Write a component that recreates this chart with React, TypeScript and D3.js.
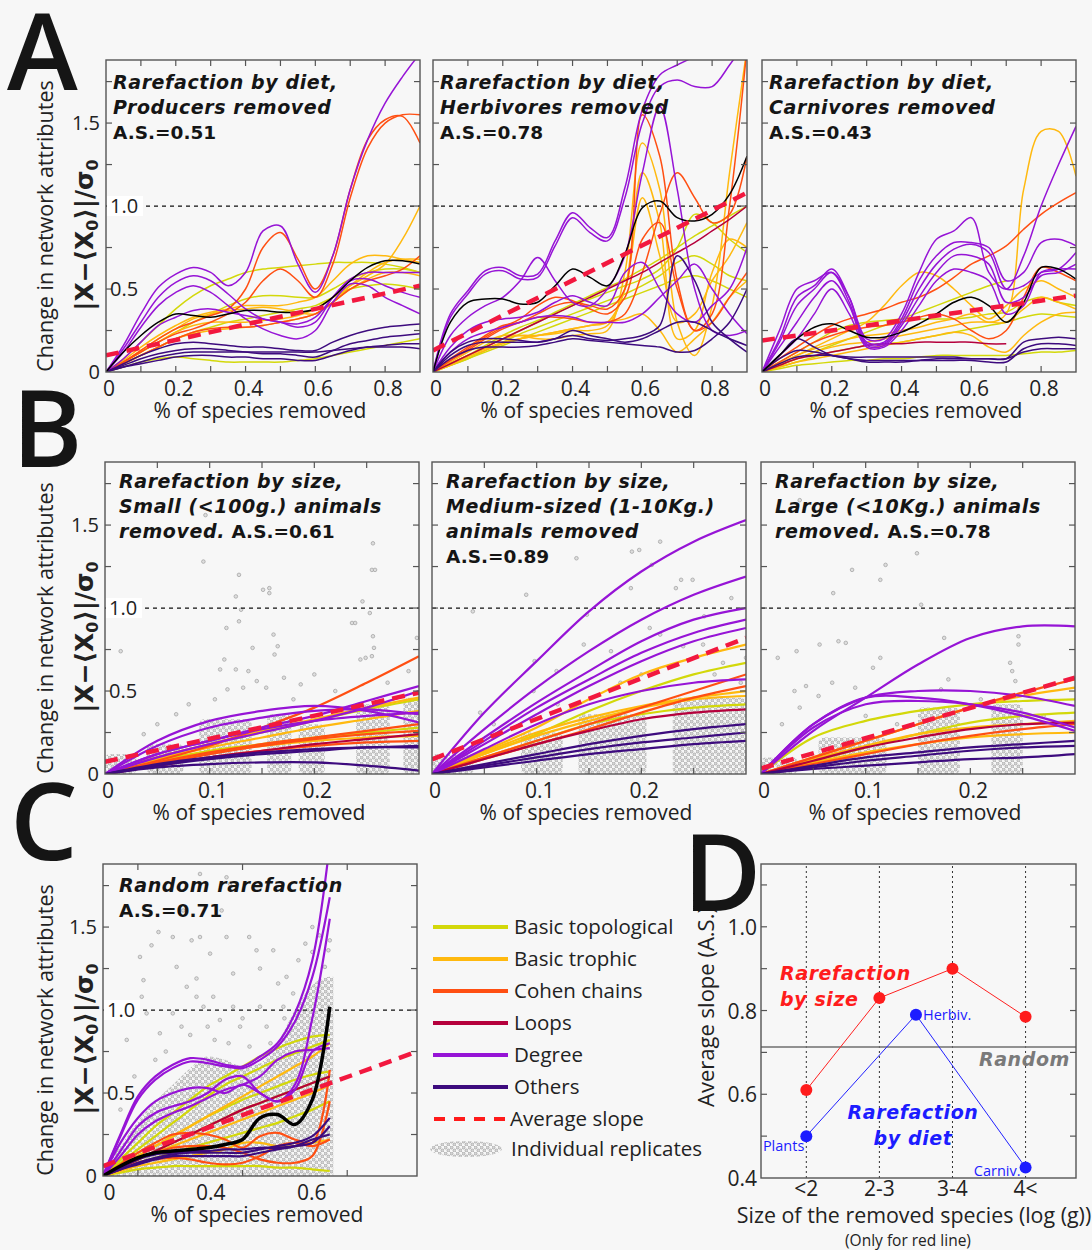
import React, { useEffect, useRef } from "react";
import * as d3 from "d3";

// x grids the curves were read on
const X_A = [0, 0.05, 0.1, 0.15, 0.2, 0.25, 0.3, 0.35, 0.4, 0.45, 0.5, 0.55, 0.6, 0.65, 0.7, 0.75, 0.8, 0.85, 0.9];
const X_B = [0, 0.05, 0.1, 0.15, 0.2, 0.25, 0.3];
const X_C = [0, 0.05, 0.1, 0.15, 0.2, 0.25, 0.3, 0.35, 0.4, 0.45, 0.5, 0.55, 0.6, 0.65];

type Line = [string, number[]];

// panel A: rarefaction by diet
const A1_LINES: Line[] = [
  ["topo", [0, .08, .18, .28, .38, .46, .52, .56, .6, .62, .63, .64, .65, .66, .66, .66, .65, .63, .6]],
  ["topo", [0, .06, .12, .18, .24, .3, .35, .4, .44, .46, .46, .45, .45, .5, .56, .6, .62, .62, .6]],
  ["topo", [0, .03, .06, .08, .09, .08, .07, .06, .06, .06, .06, .07, .08, .1, .12, .14, .16, .18, .2]],
  ["topo", [0, .05, .1, .15, .2, .24, .27, .3, .32, .34, .36, .38, .4, .45, .5, .52, .53, .52, .5]],
  ["trophic", [0, .06, .12, .18, .24, .28, .3, .3, .3, .31, .32, .34, .38, .45, .52, .58, .65, .8, 1.0]],
  ["trophic", [0, .07, .15, .22, .28, .33, .36, .38, .4, .4, .4, .42, .45, .55, .65, .7, .7, .68, .66]],
  ["trophic", [0, .06, .13, .2, .26, .32, .35, .37, .38, .39, .38, .36, .35, .42, .52, .6, .66, .68, .68]],
  ["trophic", [0, .05, .1, .15, .2, .23, .25, .26, .27, .28, .3, .32, .35, .42, .5, .56, .6, .6, .58]],
  ["cohen", [0, .06, .13, .2, .26, .3, .34, .38, .5, .75, .84, .68, .5, .7, 1.1, 1.4, 1.52, 1.54, 1.38]],
  ["cohen", [0, .06, .12, .18, .23, .26, .3, .35, .42, .55, .62, .55, .45, .65, 1.05, 1.35, 1.5, 1.55, 1.55]],
  ["cohen", [0, .05, .1, .15, .2, .24, .26, .27, .27, .28, .3, .32, .35, .42, .5, .55, .58, .62, .7]],
  ["degree", [0, .16, .35, .51, .59, .63, .6, .52, .6, .85, .88, .65, .48, .7, 1.1, 1.4, 1.62, 1.78, 1.92]],
  ["degree", [0, .14, .3, .45, .54, .58, .55, .47, .38, .32, .3, .27, .3, .45, .56, .6, .6, .6, .6]],
  ["degree", [0, .12, .27, .4, .48, .52, .48, .4, .32, .26, .22, .2, .25, .42, .53, .52, .45, .4, .35]],
  ["degree", [0, .08, .18, .28, .33, .37, .38, .36, .34, .32, .3, .29, .33, .45, .55, .56, .52, .48, .45]],
  ["others", [0, .05, .1, .14, .17, .18, .17, .16, .15, .15, .14, .13, .13, .18, .22, .25, .27, .28, .29]],
  ["others", [0, .04, .08, .11, .13, .14, .14, .13, .12, .11, .11, .1, .09, .13, .17, .19, .21, .22, .23]],
  ["others", [0, .03, .06, .09, .11, .12, .12, .12, .12, .12, .12, .12, .12, .13, .14, .15, .15, .15, .14]],
  ["others", [0, .03, .05, .07, .09, .1, .1, .09, .09, .08, .08, .07, .07, .1, .13, .15, .16, .17, .17]],
];
const A1_MEAN = [0, .12, .22, .3, .35, .34, .33, .35, .37, .37, .36, .36, .38, .45, .55, .63, .67, .67, .65];

const A2_LINES: Line[] = [
  ["topo", [0, .05, .1, .16, .22, .27, .31, .36, .41, .46, .51, .56, .62, .68, .75, .82, .88, .94, 1.0]],
  ["topo", [0, .05, .1, .15, .2, .25, .3, .35, .4, .44, .48, .52, .56, .62, .75, .95, .9, .8, .72]],
  ["topo", [0, .04, .08, .13, .18, .23, .27, .31, .35, .39, .43, .47, .52, .58, .66, .7, .65, .58, .55]],
  ["topo", [0, .04, .08, .12, .16, .2, .24, .28, .32, .36, .4, .44, .48, .52, .56, .58, .55, .5, .45]],
  ["trophic", [0, .06, .12, .18, .22, .22, .2, .2, .22, .23, .25, .6, 1.38, 1.1, .3, .1, .4, 1.2, 1.95]],
  ["trophic", [0, .05, .1, .15, .2, .22, .22, .23, .25, .25, .28, .5, 1.2, .9, .2, .25, .6, .8, .75]],
  ["trophic", [0, .05, .1, .14, .18, .2, .22, .24, .26, .28, .3, .5, 1.05, .7, .3, .35, .55, .7, .9]],
  ["trophic", [0, .04, .09, .13, .17, .2, .22, .24, .26, .28, .3, .32, .35, .25, .12, .2, .3, .45, .55]],
  ["cohen", [0, .08, .15, .22, .28, .3, .35, .4, .42, .4, .38, .5, 1.55, 1.3, .55, .25, .35, 1.0, 1.95]],
  ["cohen", [0, .07, .13, .2, .26, .3, .33, .33, .32, .3, .3, .35, .6, .95, 1.2, 1.05, .9, .95, 1.3]],
  ["cohen", [0, .07, .14, .21, .27, .32, .4, .45, .43, .38, .35, .45, .8, .9, .5, .25, .3, .45, .6]],
  ["loops", [0, .05, .1, .15, .2, .25, .3, .35, .4, .45, .5, .55, .6, .66, .72, .78, .85, .92, 1.0]],
  ["degree", [0, .35, .49, .61, .63, .58, .59, .79, .96, .87, .81, 1.11, 1.58, 1.79, 1.85, 1.9, 1.95, 2.0, 2.0]],
  ["degree", [0, .33, .47, .59, .61, .56, .57, .76, .93, .84, .79, 1.05, 1.5, 1.72, 1.76, 1.72, 1.72, 1.85, 2.0]],
  ["degree", [0, .22, .33, .4, .45, .55, .69, .55, .42, .4, .5, .7, 1.2, 1.6, 1.1, .5, .25, .22, .25]],
  ["degree", [0, .15, .25, .3, .32, .33, .36, .42, .46, .42, .4, .6, .66, .5, .35, .3, .4, .5, .75]],
  ["degree", [0, .12, .2, .24, .27, .3, .33, .34, .33, .3, .3, .3, .35, .45, .55, .65, .5, .35, .23]],
  ["others", [0, .12, .18, .2, .2, .19, .18, .2, .25, .22, .2, .18, .2, .25, .3, .3, .25, .2, .16]],
  ["others", [0, .1, .16, .18, .18, .18, .18, .2, .22, .2, .19, .2, .22, .28, .7, .55, .3, .2, .12]],
  ["others", [0, .08, .13, .15, .15, .15, .16, .18, .2, .19, .18, .17, .16, .15, .12, .13, .2, .3, .5]],
];
const A2_MEAN = [0, .3, .42, .44, .44, .41, .42, .52, .62, .57, .52, .71, .99, 1.03, .93, .91, .95, 1.07, 1.3];

const A3_LINES: Line[] = [
  ["topo", [0, .06, .12, .18, .24, .28, .3, .31, .32, .32, .32, .32, .33, .35, .36, .42, .45, .42, .4]],
  ["topo", [0, .04, .08, .12, .16, .2, .24, .28, .32, .36, .4, .44, .48, .52, .55]],
  ["topo", [0, .02, .04, .05, .06, .07, .07, .08, .08, .09, .1, .1, .1, .1, .1, .11, .12, .12, .13]],
  ["topo", [0, .03, .06, .09, .12, .14, .16, .17, .18, .2, .22, .24, .26, .28, .3, .33, .35, .34, .33]],
  ["trophic", [0, .05, .1, .14, .17, .2, .22, .23, .25, .27, .3, .32, .35, .3, .35, 1.1, 1.45, 1.45, 1.18]],
  ["trophic", [0, .05, .1, .15, .2, .25, .3, .4, .52, .6, .58, .5, .4, .32, .4, .5, .55, .5, .45]],
  ["trophic", [0, .04, .08, .12, .15, .17, .18, .2, .22, .24, .26, .28, .3, .3, .3, .38, .45, .42, .38]],
  ["trophic", [0, .03, .06, .08, .1, .12, .14, .16, .18, .2, .22, .24, .22, .15, .12, .22, .3, .35, .36]],
  ["cohen", [0, .08, .15, .22, .28, .32, .35, .38, .42, .45, .5, .57, .65, .7, .76, .86, .95, 1.02, 1.08]],
  ["cohen", [0, .06, .12, .18, .22, .25, .27, .28, .3, .33, .35, .32, .25, .2, .25, .45, .63, .6, .55]],
  ["loops", [0, .04, .08, .1, .12, .14, .16, .17, .17, .18, .18, .18, .18, .17, .17]],
  ["degree", [0, .25, .5, .55, .6, .45, .2, .2, .35, .6, .8, .85, .93, .6, .5, .7, 1.0, 1.25, 1.48]],
  ["degree", [0, .2, .45, .52, .62, .45, .18, .18, .32, .55, .7, .78, .78, .75, .55, .6, .78, .8, .76]],
  ["degree", [0, .18, .4, .5, .6, .42, .17, .17, .3, .5, .65, .74, .77, .72, .5, .52, .6, .62, .72]],
  ["degree", [0, .15, .3, .45, .55, .4, .16, .16, .28, .45, .6, .7, .7, .65, .42, .45, .58, .6, .65]],
  ["degree", [0, .1, .2, .35, .5, .35, .15, .15, .25, .4, .55, .62, .6, .55, .35, .4, .6, .62, .62]],
  ["others", [0, .1, .2, .15, .1, .08, .06, .06, .06, .07, .08, .08, .08, .08, .08, .18, .2, .21, .2]],
  ["others", [0, .08, .13, .12, .1, .08, .07, .07, .07, .07, .07, .07, .07, .06, .06, .14, .17, .17, .16]],
  ["others", [0, .05, .09, .1, .1, .09, .09, .09, .09, .09, .09, .09, .08, .08, .08, .12, .14, .14, .14]],
];
const A3_MEAN = [0, .1, .2, .27, .29, .25, .21, .21, .24, .29, .35, .42, .45, .4, .3, .42, .63, .62, .56];

// panel B: rarefaction by size
const B1_LINES: Line[] = [
  ["topo", [0, .1, .18, .25, .32, .39, .45]],
  ["topo", [0, .08, .14, .18, .22, .25, .28]],
  ["trophic", [0, .1, .18, .26, .33, .4, .46]],
  ["trophic", [0, .07, .13, .17, .2, .22, .23]],
  ["trophic", [0, .09, .16, .22, .28, .33, .38]],
  ["cohen", [0, .08, .17, .28, .4, .55, .71]],
  ["cohen", [0, .07, .13, .18, .22, .26, .3]],
  ["cohen", [0, .05, .1, .14, .17, .19, .2]],
  ["cohen", [0, .06, .12, .17, .21, .24, .26]],
  ["loops", [0, .05, .1, .14, .18, .21, .24]],
  ["degree", [0, .2, .32, .38, .41, .38, .31]],
  ["degree", [0, .17, .28, .34, .38, .39, .36]],
  ["degree", [0, .12, .2, .28, .35, .44, .53]],
  ["degree", [0, .1, .18, .25, .32, .4, .5]],
  ["degree", [0, .12, .2, .27, .32, .35, .37]],
  ["others", [0, .05, .09, .12, .14, .16, .16]],
  ["others", [0, .04, .06, .07, .07, .05, .02]],
  ["others", [0, .06, .1, .13, .15, .16, .17]],
];
const B2_LINES: Line[] = [
  ["topo", [0, .12, .24, .38, .5, .6, .67]],
  ["topo", [0, .1, .2, .3, .36, .4, .42]],
  ["trophic", [0, .14, .28, .45, .6, .7, .78]],
  ["trophic", [0, .13, .25, .34, .41, .46, .5]],
  ["trophic", [0, .12, .23, .32, .4, .45, .47]],
  ["cohen", [0, .1, .2, .3, .4, .5, .6]],
  ["cohen", [0, .09, .18, .27, .37, .46, .53]],
  ["loops", [0, .09, .18, .26, .33, .37, .39]],
  ["degree", [0, .37, .68, .98, 1.22, 1.4, 1.53]],
  ["degree", [0, .27, .52, .74, .93, 1.08, 1.19]],
  ["degree", [0, .22, .43, .62, .8, .93, 1.0]],
  ["degree", [0, .2, .4, .57, .73, .85, .93]],
  ["degree", [0, .18, .36, .53, .68, .8, .88]],
  ["degree", [0, .15, .3, .42, .5, .55, .57]],
  ["others", [0, .06, .12, .18, .23, .27, .3]],
  ["others", [0, .05, .1, .15, .19, .22, .25]],
  ["others", [0, .04, .08, .12, .15, .18, .2]],
];
const B3_LINES: Line[] = [
  ["topo", [0, .22, .32, .38, .42, .44, .45]],
  ["topo", [0, .08, .16, .24, .31, .35, .37]],
  ["trophic", [0, .1, .2, .3, .4, .47, .52]],
  ["trophic", [0, .07, .13, .18, .22, .24, .25]],
  ["trophic", [0, .09, .17, .24, .28, .3, .32]],
  ["cohen", [0, .1, .2, .3, .4, .49, .57]],
  ["cohen", [0, .06, .12, .18, .23, .27, .3]],
  ["loops", [0, .08, .16, .22, .27, .3, .31]],
  ["degree", [0, .26, .46, .66, .82, .89, .89]],
  ["degree", [0, .3, .46, .5, .5, .47, .41]],
  ["degree", [0, .3, .46, .46, .42, .35, .26]],
  ["degree", [0, .28, .42, .44, .42, .37, .28]],
  ["others", [0, .05, .1, .13, .16, .18, .2]],
  ["others", [0, .04, .08, .11, .14, .16, .17]],
  ["others", [0, .03, .05, .07, .09, .1, .12]],
];

// panel C: random rarefaction
const C_LINES: Line[] = [
  ["topo", [0, .1, .2, .3, .38, .46, .54, .6, .66, .72, .77, .81, .84, .85]],
  ["topo", [0, .08, .16, .24, .32, .4, .48, .55, .6, .65, .7, .74, .78, .82]],
  ["topo", [0, .06, .12, .18, .24, .3, .36, .41, .46, .5, .54, .58, .61, .63]],
  ["topo", [0, .05, .1, .15, .2, .25, .3, .35, .4, .44, .48, .52, .56, .6]],
  ["topo", [0, .02, .04, .05, .06, .06, .06, .06, .06, .06, .05, .05, .04, .03]],
  ["topo", [0, .04, .08, .11, .14, .17, .2, .23, .26, .29, .32, .36, .4, .45]],
  ["trophic", [0, .06, .12, .18, .24, .3, .36, .42, .48, .54, .6, .66, .72, .8]],
  ["trophic", [0, .03, .06, .08, .1, .12, .14, .16, .2, .2, .18, .18, .2, .22]],
  ["trophic", [0, .05, .1, .14, .18, .22, .26, .3, .34, .38, .42, .46, .5, .55]],
  ["cohen", [0, .07, .14, .2, .25, .26, .25, .22, .17, .24, .26, .22, .2, .64]],
  ["cohen", [0, .05, .1, .14, .17, .18, .18, .17, .14, .1, .08, .08, .12, .45]],
  ["cohen", [0, .04, .08, .1, .11, .1, .08, .07, .08, .12, .18, .2, .18, .22]],
  ["loops", [0, .05, .1, .15, .2, .25, .3, .35, .4, .44, .48, .52, .56, .6]],
  ["degree", [0, .25, .48, .6, .67, .71, .7, .67, .66, .72, .8, .98, 1.3, 2.0]],
  ["degree", [0, .24, .46, .58, .65, .69, .68, .66, .65, .7, .78, .93, 1.2, 1.68]],
  ["degree", [0, .2, .35, .45, .5, .53, .53, .5, .55, .5, .45, .55, .95, 1.55]],
  ["degree", [0, .15, .3, .38, .42, .45, .5, .58, .6, .5, .45, .52, .75, .8]],
  ["degree", [0, .12, .25, .33, .38, .42, .47, .52, .55, .6, .7, .75, .76, .77]],
  ["others", [0, .05, .1, .13, .14, .15, .15, .16, .16, .17, .17, .18, .2, .3]],
  ["others", [0, .04, .08, .11, .13, .14, .14, .14, .14, .16, .18, .2, .24, .35]],
  ["others", [0, .04, .07, .1, .12, .12, .12, .12, .12, .14, .16, .18, .22, .25]],
];
const C_MEAN = [0, .06, .11, .14, .15, .16, .17, .19, .22, .35, .37, .31, .46, 1.02];

// average slope lines: value at left edge and at right edge
const A_SLOPES = [[0.1, 0.52], [0.13, 1.08], [0.19, 0.46]];
const B_SLOPES = [[0.074, 0.49], [0.088, 0.82], [0.034, 0.58]];
const C_SLOPE = [0.06, 0.75];

// individual replicates: dense columns [x from, x to, top] and scattered points
const B1_CLOUD = [[0, 0.03, 0.12], [0.04, 0.075, 0.18], [0.09, 0.14, 0.33], [0.155, 0.178, 0.36], [0.185, 0.21, 0.3], [0.24, 0.272, 0.42], [0.285, 0.3, 0.46]];
const B2_CLOUD = [[0, 0.04, 0.12], [0.085, 0.125, 0.25], [0.14, 0.205, 0.36], [0.23, 0.3, 0.46]];
const B3_CLOUD = [[0, 0.035, 0.1], [0.055, 0.12, 0.22], [0.15, 0.19, 0.4], [0.22, 0.25, 0.42]];
const C_CLOUD_X = [0, .05, .1, .15, .2, .25, .3, .35, .4, .45, .5, .55, .6, .65, .66];
const C_CLOUD_TOP = [.05, .18, .33, .45, .55, .65, .72, .7, .66, .68, .8, 1.0, 1.15, 1.2, 1.2];

const B1_POINTS = [[.094, 1.28], [.128, 1.2], [.125, 1.07], [.13, .99], [.151, 1.11], [.157, 1.12], [.157, 1.09], [.128, .92], [.116, .88], [.015, .74], [.114, .69], [.11, .63], [.125, .63], [.137, .62], [.141, .76], [.161, .84], [.165, .77], [.162, .72], [.171, .58], [.236, .91], [.239, .91], [.246, 1.04], [.256, 1.39], [.255, 1.23], [.258, 1.23], [.256, .83], [.257, .76], [.255, .71], [.253, .97], [.249, .7], [.244, .69], [.298, .82], [.187, .54], [.117, .51], [.132, .52], [.145, .56], [.154, .52], [.068, .36], [.037, .24], [.096, 1.56], [.2, .6], [.22, .5], [.27, .55], [.08, .42], [.05, .3], [.18, .45], [.29, .62], [.105, .45]];
const B2_POINTS = [[.039, .98], [.09, 1.08], [.198, 1.35], [.191, 1.34], [.21, 1.26], [.19, 1.12], [.233, 1.12], [.238, 1.17], [.249, 1.17], [.286, 1.06], [.145, .78], [.171, .74], [.208, .88], [.218, .84], [.24, .77], [.259, .78], [.278, .67], [.098, .68], [.097, .5], [.046, .37], [.059, .3], [.218, 1.4], [.138, 1.3], [.119, .62], [.148, .96], [.27, .6], [.295, .55], [.18, .55], [.12, .42], [.26, .95], [.2, .6], [.3, .7]];
const B3_POINTS = [[.037, 1.65], [.07, 1.79], [.103, 1.79], [.149, 1.33], [.087, 1.23], [.119, 1.26], [.114, 1.17], [.069, 1.09], [.153, 1.02], [.056, .78], [.074, .8], [.081, .79], [.034, .74], [.016, .7], [.114, .7], [.107, .64], [.068, .55], [.09, .52], [.043, .53], [.032, .5], [.037, .4], [.175, .82], [.246, .83], [.246, .78], [.238, .67], [.24, .62], [.243, .56], [.179, .57], [.172, .51], [.055, .47], [.02, .3], [.1, .35], [.13, .3], [.21, .45], [.27, .35]];
const C_POINTS = [[.106, 1.32], [.139, 1.39], [.159, 1.47], [.2, 1.44], [.254, 1.42], [.278, 1.44], [.268, 1.19], [.307, 1.34], [.354, 1.44], [.373, 1.22], [.419, 1.44], [.44, 1.36], [.488, 1.36], [.502, 1.16], [.526, 1.2], [.354, 1.8], [.278, 1.82], [.364, 1.76], [.068, .82], [.111, 1.08], [.24, 1.14], [.2, .98], [.125, .98], [.163, .86], [.225, .9], [.268, 1.08], [.288, 1.02], [.316, 1.08], [.335, .94], [.373, 1.02], [.393, .9], [.45, 1.02], [.469, .9], [.517, 1.02], [.545, 1.1], [.116, 1.18], [.211, 1.26], [.646, 1.36], [.65, 1.42], [.636, 1.26], [.09, .6], [.15, .7], [.18, .75], [.25, .85], [.32, .82], [.36, .8], [.42, .78], [.48, .8], [.52, .95], [.56, 1.3], [.6, 1.35], [.62, 1.45], [.58, 1.4], [.3, .9], [.4, .95], [.05, .4], [.6, 1.5], [.45, 1.25], [.34, 1.6], [.23, 1.6]];

// panel D
const SIZE_CATS = ["<2", "2-3", "3-4", "4<"];
const SIZE_AS = [0.61, 0.83, 0.9, 0.785];
const DIET_POS = [0, 1.5, 3];
const DIET_AS = [0.5, 0.79, 0.425];
const DIET_NAMES = ["Plants", "Herbiv.", "Carniv."];
const RANDOM_AS = 0.713;
const D_Y_LABELS = [0.4, 0.6, 0.8, 1.0];

const LEGEND_KEYS = ["topo", "trophic", "cohen", "loops", "degree", "others"];
const LEGEND_NAMES = ["Basic topological", "Basic trophic", "Cohen chains", "Loops", "Degree", "Others"];

const COLORS: Record<string, string> = {
  topo: "#d3d80a",
  trophic: "#ffb90f",
  cohen: "#ff4f12",
  loops: "#b5003c",
  degree: "#9614d6",
  others: "#3d0b7e",
};
const SLOPE_RED = "#f2183f";
const BG = "#f7f7f7";
const PW = 314, PH = 312, Y_MAX = 1.88;
const SANS = "'Open Sans', 'DejaVu Sans', sans-serif";
const BOLD = "'DejaVu Sans', sans-serif";

type Seg = [string, boolean];

const App = () => {
  const ref = useRef<SVGSVGElement>(null);

  useEffect(() => {
    document.body.style.margin = "0";
    const svg = d3.select(ref.current);
    svg.selectAll("*").remove();
    svg.append("rect").attr("width", 1092).attr("height", 1250).attr("fill", BG);

    const defs = svg.append("defs");
    const pat = defs.append("pattern").attr("id", "reps").attr("width", 6).attr("height", 6)
      .attr("patternUnits", "userSpaceOnUse");
    [[1.5, 1.5], [4.5, 4.5]].forEach(([cx, cy]) => {
      pat.append("circle").attr("cx", cx).attr("cy", cy).attr("r", 1.5)
        .attr("fill", "#d6d6d6").attr("stroke", "#a6a6a6").attr("stroke-width", 0.8);
    });

    // bold (italic) annotation blocks, one text per line
    const drawTitle = (g: any, x: number, y0: number, gap: number, lines: Seg[][], color = "#151515", anchor = "start") => {
      lines.forEach((segs, i) => {
        const t = g.append("text").attr("x", x).attr("y", y0 + i * gap).attr("fill", color)
          .attr("text-anchor", anchor);
        segs.forEach(([s, it]) => {
          t.append("tspan").text(s)
            .attr("font-family", BOLD).attr("font-weight", "bold")
            .attr("font-style", it ? "italic" : "normal")
            .attr("font-size", it ? 19 : 18.5)
            .attr("letter-spacing", it ? 0.6 : 0);
        });
      });
    };

    const drawPlot = (p: any) => {
      const g = svg.append("g");
      const x = d3.scaleLinear().domain([0, p.xMax]).range([p.left, p.left + PW]);
      const y = d3.scaleLinear().domain([0, Y_MAX]).range([p.top + PH, p.top]);
      defs.append("clipPath").attr("id", "clip-" + p.id).append("rect")
        .attr("x", p.left).attr("y", p.top).attr("width", PW).attr("height", PH);
      const inner = g.append("g").attr("clip-path", `url(#clip-${p.id})`);

      // replicates
      if (p.bands) {
        inner.selectAll(".band").data(p.bands).join("rect")
          .attr("x", (d: number[]) => x(d[0])).attr("width", (d: number[]) => x(d[1]) - x(d[0]))
          .attr("y", (d: number[]) => y(d[2])).attr("height", (d: number[]) => y(0) - y(d[2]))
          .attr("rx", 5).attr("fill", "url(#reps)");
      }
      if (p.cloudX) {
        const area = d3.area<number>().x((d, i) => x(p.cloudX[i])).y0(y(0)).y1((d) => y(d))
          .curve(d3.curveMonotoneX);
        inner.append("path").attr("d", area(p.cloudTop)).attr("fill", "url(#reps)");
      }
      if (p.points) {
        inner.selectAll(".pt").data(p.points).join("circle")
          .attr("cx", (d: number[]) => x(d[0])).attr("cy", (d: number[]) => y(d[1])).attr("r", 1.8)
          .attr("fill", "#dedede").attr("stroke", "#a6a6a6").attr("stroke-width", 0.8);
      }

      // reference at 1.0
      inner.append("line").attr("x1", p.left).attr("x2", p.left + PW).attr("y1", y(1)).attr("y2", y(1))
        .attr("stroke", "#111").attr("stroke-width", 1.2).attr("stroke-dasharray", "4 4");

      const line = d3.line<number>().x((d, i) => x(p.xs[i])).y((d) => y(d))
        .curve(d3.curveCatmullRom.alpha(0.5));
      LEGEND_KEYS.forEach((k) => {
        p.lines.filter((l: Line) => l[0] === k).forEach((l: Line) => {
          inner.append("path").attr("d", line(l[1])).attr("fill", "none")
            .attr("stroke", COLORS[k]).attr("stroke-width", p.lw);
        });
      });
      if (p.mean) {
        inner.append("path").attr("d", line(p.mean)).attr("fill", "none")
          .attr("stroke", "#000").attr("stroke-width", p.meanW);
      }
      inner.append("line")
        .attr("x1", x(0)).attr("x2", x(p.xMax)).attr("y1", y(p.slope[0])).attr("y2", y(p.slope[1]))
        .attr("stroke", SLOPE_RED).attr("stroke-width", 4.5).attr("stroke-dasharray", "13 8");

      // frame and ticks
      g.append("rect").attr("x", p.left).attr("y", p.top).attr("width", PW).attr("height", PH)
        .attr("fill", "none").attr("stroke", "#555").attr("stroke-width", 1.4);
      const tk = g.append("g").attr("stroke", "#555").attr("stroke-width", 1.2);
      p.xTicks.forEach((v: number) => {
        tk.append("line").attr("x1", x(v)).attr("x2", x(v)).attr("y1", p.top + PH).attr("y2", p.top + PH - 6);
        tk.append("line").attr("x1", x(v)).attr("x2", x(v)).attr("y1", p.top).attr("y2", p.top + 6);
      });
      [0.25, 0.5, 0.75, 1, 1.25, 1.5, 1.75].forEach((v) => {
        tk.append("line").attr("x1", p.left).attr("x2", p.left + 6).attr("y1", y(v)).attr("y2", y(v));
        tk.append("line").attr("x1", p.left + PW).attr("x2", p.left + PW - 6).attr("y1", y(v)).attr("y2", y(v));
      });

      p.xLabelPos.forEach((v: number, i: number) => {
        g.append("text").attr("x", x(v) + 3).attr("y", p.top + PH + 24).attr("text-anchor", "middle")
          .attr("font-family", SANS).attr("font-size", 21).attr("fill", "#222").text(p.xLabelText[i]);
      });
      g.append("text").attr("x", p.left + PW / 2 - 3).attr("y", p.top + PH + 46).attr("text-anchor", "middle")
        .attr("font-family", SANS).attr("font-size", 21).attr("fill", "#222").text("% of species removed");

      if (p.yLabels) {
        const yl = g.append("g").attr("font-family", SANS).attr("font-size", 20).attr("fill", "#222");
        yl.append("rect").attr("x", p.left + 1).attr("y", y(1) - 10).attr("width", 36).attr("height", 20).attr("fill", "#fff");
        yl.append("text").attr("x", p.left - 6).attr("y", y(0) + 7).attr("text-anchor", "end").text("0");
        yl.append("text").attr("x", p.left - 6).attr("y", y(1.5) + 7).attr("text-anchor", "end").text("1.5");
        yl.append("text").attr("x", p.left + 4).attr("y", y(0.5) + 7).text("0.5");
        yl.append("text").attr("x", p.left + 4).attr("y", y(1) + 7).text("1.0");
        // shared y-axis title
        g.append("text").attr("transform", `translate(53,${p.top + 166}) rotate(-90)`)
          .attr("text-anchor", "middle").attr("font-family", SANS).attr("font-size", 21.5).attr("fill", "#222")
          .text("Change in network attributes");
        const t2 = g.append("text").attr("transform", `translate(93,${p.top + 175}) rotate(-90)`)
          .attr("text-anchor", "middle").attr("font-family", BOLD).attr("font-weight", "bold")
          .attr("font-size", 25).attr("fill", "#222");
        t2.append("tspan").text("|X−⟨X");
        t2.append("tspan").text("0").attr("font-size", 16).attr("dy", 5);
        t2.append("tspan").text("⟩|/σ").attr("dy", -5);
        t2.append("tspan").text("0").attr("font-size", 16).attr("dy", 5);
      }

      drawTitle(g, p.left + p.tdx, p.top + p.tdy, 25, p.title);
    };

    const xTicksA = [0.1, 0.2, 0.3, 0.4, 0.5, 0.6, 0.7, 0.8];
    const xTicksB = [0.05, 0.1, 0.15, 0.2, 0.25];
    const colLeft = [106, 433, 762];
    const aTitles: Seg[][][] = [
      [[["Rarefaction by diet,", true]], [["Producers removed", true]], [["A.S.=0.51", false]]],
      [[["Rarefaction by diet,", true]], [["Herbivores removed", true]], [["A.S.=0.78", false]]],
      [[["Rarefaction by diet,", true]], [["Carnivores removed", true]], [["A.S.=0.43", false]]],
    ];
    const bTitles: Seg[][][] = [
      [[["Rarefaction by size,", true]], [["Small (<100g.) animals", true]], [["removed.", true], [" A.S.=0.61", false]]],
      [[["Rarefaction by size,", true]], [["Medium-sized (1-10Kg.)", true]], [["animals removed", true]], [["A.S.=0.89", false]]],
      [[["Rarefaction by size,", true]], [["Large (<10Kg.) animals", true]], [["removed.", true], [" A.S.=0.78", false]]],
    ];
    const aLines = [A1_LINES, A2_LINES, A3_LINES];
    const aMeans = [A1_MEAN, A2_MEAN, A3_MEAN];
    const bLines = [B1_LINES, B2_LINES, B3_LINES];
    const bClouds = [B1_CLOUD, B2_CLOUD, B3_CLOUD];
    const bPoints = [B1_POINTS, B2_POINTS, B3_POINTS];

    colLeft.forEach((left, i) => {
      drawPlot({
        id: "a" + i, left, top: 60, xMax: 0.9, xs: X_A, lines: aLines[i], mean: aMeans[i], meanW: 1.5, lw: 1.5,
        slope: A_SLOPES[i], xTicks: xTicksA, xLabelPos: [0, 0.2, 0.4, 0.6, 0.8], xLabelText: ["0", "0.2", "0.4", "0.6", "0.8"],
        yLabels: i === 0, title: aTitles[i], tdx: 7, tdy: 29,
      });
    });
    colLeft.forEach((left, i) => {
      drawPlot({
        id: "b" + i, left: left - 1, top: 462, xMax: 0.3, xs: X_B, lines: bLines[i], lw: 2.2,
        slope: B_SLOPES[i], xTicks: xTicksB, xLabelPos: [0, 0.1, 0.2], xLabelText: ["0", "0.1", "0.2"],
        yLabels: i === 0, title: bTitles[i], tdx: 14, tdy: 26,
        bands: bClouds[i], points: bPoints[i],
      });
    });
    drawPlot({
      id: "c", left: 103, top: 864, xMax: 0.9, xs: X_C, lines: C_LINES, mean: C_MEAN, meanW: 3.5, lw: 2.2,
      slope: C_SLOPE, xTicks: [0.1, 0.4, 0.7], xLabelPos: [0.01, 0.3, 0.59], xLabelText: ["0", "0.4", "0.6"],
      yLabels: true, title: [[["Random rarefaction", true]], [["A.S.=0.71", false]]], tdx: 16, tdy: 28,
      cloudX: C_CLOUD_X, cloudTop: C_CLOUD_TOP, points: C_POINTS,
    });

    // legend
    const lg = svg.append("g").attr("font-family", SANS).attr("font-size", 20.5).attr("fill", "#222");
    const ly = d3.scaleLinear().domain([0, 1]).range([927, 959]);
    LEGEND_KEYS.forEach((k, i) => {
      lg.append("line").attr("x1", 433).attr("x2", 508).attr("y1", ly(i)).attr("y2", ly(i))
        .attr("stroke", COLORS[k]).attr("stroke-width", 4);
      lg.append("text").attr("x", 514).attr("y", ly(i) + 7).text(LEGEND_NAMES[i]);
    });
    lg.append("line").attr("x1", 434).attr("x2", 508).attr("y1", ly(6)).attr("y2", ly(6))
      .attr("stroke", "#ff1a1a").attr("stroke-width", 4).attr("stroke-dasharray", "11 9");
    lg.append("text").attr("x", 510).attr("y", ly(6) + 7).text("Average slope");
    lg.append("ellipse").attr("cx", 466).attr("cy", ly(7) - 2).attr("rx", 36).attr("ry", 8).attr("fill", "url(#reps)");
    lg.append("text").attr("x", 511).attr("y", ly(7) + 5).text("Individual replicates");

    // panel D
    const dg = svg.append("g");
    const xD = d3.scaleLinear().domain([-0.62, 3.69]).range([761, 1076]);
    const yD = d3.scaleLinear().domain([0.4, 1.15]).range([1178, 864]);
    SIZE_CATS.forEach((c, i) => {
      dg.append("line").attr("x1", xD(i)).attr("x2", xD(i)).attr("y1", yD(0.4)).attr("y2", yD(1.15))
        .attr("stroke", "#333").attr("stroke-width", 1).attr("stroke-dasharray", "2 3");
      dg.append("text").attr("x", xD(i)).attr("y", 1196).attr("text-anchor", "middle")
        .attr("font-family", SANS).attr("font-size", 21).attr("fill", "#222").text(c);
    });
    dg.append("line").attr("x1", xD(-0.62)).attr("x2", xD(3.69)).attr("y1", yD(RANDOM_AS)).attr("y2", yD(RANDOM_AS))
      .attr("stroke", "#6f6f6f").attr("stroke-width", 1.6);
    drawTitle(dg, 1070, yD(RANDOM_AS) + 19, 0, [[["Random", true]]], "#7a7a7a", "end");

    const dLine = d3.line<number>().x((d, i) => xD(i)).y((d) => yD(d));
    dg.append("path").attr("d", dLine(SIZE_AS)).attr("fill", "none").attr("stroke", "#ff2020").attr("stroke-width", 1);
    const dietLine = d3.line<number>().x((d, i) => xD(DIET_POS[i])).y((d) => yD(d));
    dg.append("path").attr("d", dietLine(DIET_AS)).attr("fill", "none").attr("stroke", "#2020ff").attr("stroke-width", 1);
    SIZE_AS.forEach((v, i) => {
      dg.append("circle").attr("cx", xD(i)).attr("cy", yD(v)).attr("r", 6).attr("fill", "#ff1c1c");
    });
    DIET_AS.forEach((v, i) => {
      dg.append("circle").attr("cx", xD(DIET_POS[i])).attr("cy", yD(v)).attr("r", 6).attr("fill", "#1c1cff");
    });
    const dl = dg.append("g").attr("font-family", SANS).attr("font-size", 14.5).attr("fill", "#1c1cff");
    dl.append("text").attr("x", xD(DIET_POS[0]) - 2).attr("y", yD(DIET_AS[0]) + 15).attr("text-anchor", "end").text(DIET_NAMES[0]);
    dl.append("text").attr("x", xD(DIET_POS[1]) + 7).attr("y", yD(DIET_AS[1]) + 5).text(DIET_NAMES[1]);
    dl.append("text").attr("x", xD(DIET_POS[2]) - 5).attr("y", yD(DIET_AS[2]) + 8).attr("text-anchor", "end").text(DIET_NAMES[2]);

    drawTitle(dg, 780, 980, 26, [[["Rarefaction", true]], [["by size", true]]], "#ff1c1c");
    drawTitle(dg, 913, 1119, 26, [[["Rarefaction", true]], [["by diet", true]]], "#1c1cff", "middle");

    dg.append("rect").attr("x", 761).attr("y", 864).attr("width", 315).attr("height", 314)
      .attr("fill", "none").attr("stroke", "#555").attr("stroke-width", 1.4);
    [0.5, 0.6, 0.7, 0.8, 0.9, 1.0, 1.1].forEach((v) => {
      dg.append("line").attr("x1", 761).attr("x2", 767).attr("y1", yD(v)).attr("y2", yD(v)).attr("stroke", "#555").attr("stroke-width", 1.2);
      dg.append("line").attr("x1", 1076).attr("x2", 1070).attr("y1", yD(v)).attr("y2", yD(v)).attr("stroke", "#555").attr("stroke-width", 1.2);
    });
    D_Y_LABELS.forEach((v) => {
      dg.append("text").attr("x", 757).attr("y", yD(v) + 8).attr("text-anchor", "end")
        .attr("font-family", SANS).attr("font-size", 21).attr("fill", "#222").text(v.toFixed(1));
    });
    dg.append("text").attr("transform", "translate(714,1007) rotate(-90)").attr("text-anchor", "middle")
      .attr("font-family", SANS).attr("font-size", 22).attr("fill", "#222").text("Average slope (A.S.)");
    dg.append("text").attr("x", 914).attr("y", 1223).attr("text-anchor", "middle")
      .attr("font-family", SANS).attr("font-size", 21.4).attr("fill", "#222").text("Size of the removed species (log (g))");
    dg.append("text").attr("x", 908).attr("y", 1246).attr("text-anchor", "middle")
      .attr("font-family", SANS).attr("font-size", 15.5).attr("fill", "#222").text("(Only for red line)");

    // panel letters
    const letters: [string, number, number][] = [["A", 7, 90], ["B", 12, 467], ["C", 10, 860], ["D", 683, 911]];
    letters.forEach(([t, lx, by]) => {
      svg.append("text").attr("x", lx).attr("y", by).attr("font-family", SANS).attr("font-weight", 600)
        .attr("font-size", 107).attr("fill", "#151515").text(t);
    });
  }, []);

  return <svg ref={ref} width={1092} height={1250} style={{ display: "block" }}></svg>;
};

export default App;
